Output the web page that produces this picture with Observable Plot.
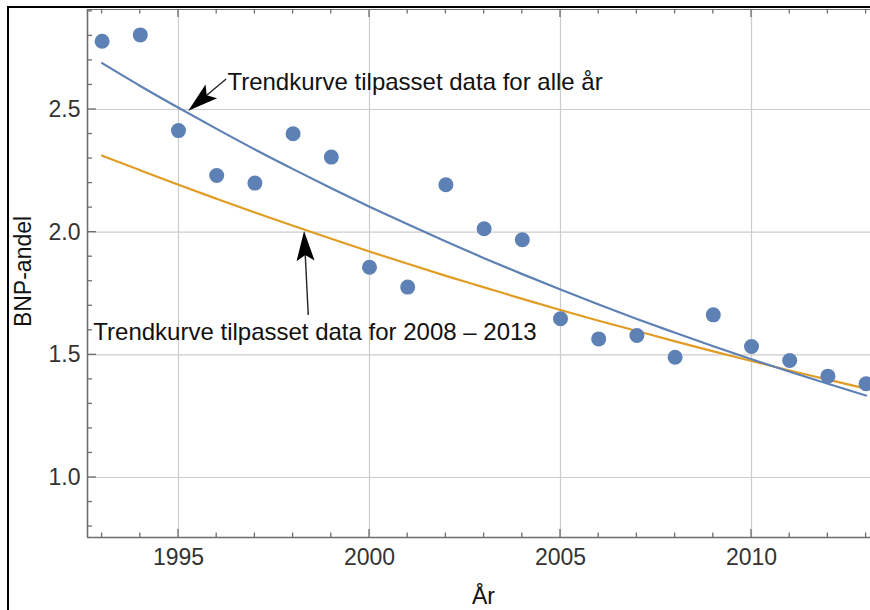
<!DOCTYPE html>
<html>
<head>
<meta charset="utf-8">
<script src="https://cdn.jsdelivr.net/npm/d3@7"></script>
<script src="https://cdn.jsdelivr.net/npm/@observablehq/plot@0.6"></script>
<style>
  html, body { margin: 0; padding: 0; background: #fff; }
  body { width: 870px; height: 610px; overflow: hidden; position: relative; font-family: "Liberation Sans", Arial, sans-serif; }
  #chart { position: absolute; left: 0; top: 0; }
  #frameL { position: absolute; left: 7px; top: 6px; width: 2px; height: 604px; background: #000; }
  #frameT { position: absolute; left: 7px; top: 6px; width: 863px; height: 2px; background: #000; }
</style>
</head>
<body>
<div id="chart"></div>
<div id="frameL"></div>
<div id="frameT"></div>
<script>
// ---- data ----
const years = [1993,1994,1995,1996,1997,1998,1999,2000,2001,2002,2003,2004,2005,2006,2007,2008,2009,2010,2011,2012,2013];
const bnpShare = [2.778,2.804,2.414,2.231,2.200,2.401,2.306,1.857,1.776,2.193,2.014,1.969,1.647,1.565,1.579,1.490,1.663,1.534,1.477,1.413,1.382];
const trendAllYears = [2.689,2.596,2.507,2.421,2.337,2.257,2.179,2.104,2.032,1.962,1.894,1.829,1.766,1.705,1.646,1.590,1.535,1.482,1.431,1.382,1.334];
const trend2008to2013 = [2.312,2.252,2.193,2.136,2.080,2.026,1.973,1.921,1.871,1.822,1.775,1.728,1.683,1.639,1.597,1.555,1.514,1.475,1.436,1.399,1.362];

const xMajorTicks = [1995,2000,2005,2010];
const xMinorTicks = [1993,1994,1996,1997,1998,1999,2001,2002,2003,2004,2006,2007,2008,2009,2011,2012,2013];
const yMajorTicks = [1.0,1.5,2.0,2.5];
const yTickLabels = ["1.0","1.5","2.0","2.5"];
const yMinorTicks = [0.8,0.9,1.1,1.2,1.3,1.4,1.6,1.7,1.8,1.9,2.1,2.2,2.3,2.4,2.6,2.7,2.8,2.9];

const xLabel = "År";
const yLabel = "BNP-andel";

const annotationTexts = ["Trendkurve tilpasset data for alle år", "Trendkurve tilpasset data for 2008 – 2013"];
const annotationX = [1996.28, 1992.77];
const annotationY = [2.609, 1.590];
const arrowTailX = [1996.26, 1998.41];
const arrowTailY = [2.622, 1.660];
const arrowTipX = [1995.27, 1998.30];
const arrowTipY = [2.493, 2.003];

const xDomain = [1992.618, 2013.115];
const yDomain = [0.7554, 2.9076];

// ---- tables built from the arrays ----
const points = years.map((yr, i) => ({year: yr, value: bnpShare[i]}));
const curveAll = years.map((yr, i) => ({year: yr, value: trendAllYears[i]}));
const curveRecent = years.map((yr, i) => ({year: yr, value: trend2008to2013[i]}));
const annotations = annotationTexts.map((t, i) => ({text: t, x: annotationX[i], y: annotationY[i]}));
const arrows = arrowTipX.map((_, i) => ({x1: arrowTailX[i], y1: arrowTailY[i], x2: arrowTipX[i], y2: arrowTipY[i]}));

const blue = "#5E81B5";
const orange = "#E19C24";
const axisGray = "#6e6e6e";

// frame ticks pointing inward (drawn through Plot's scales)
function frameTicks(index, scales, values, dims) {
  const {x, y} = scales;
  const top = dims.marginTop, bottom = dims.height - dims.marginBottom;
  const left = dims.marginLeft, right = dims.width - dims.marginRight;
  const g = d3.create("svg:g").attr("stroke", axisGray).attr("stroke-width", 1.3).attr("fill", "none");
  const addX = (vals, len) => vals.forEach(v => {
    const px = x(v);
    g.append("line").attr("x1", px).attr("x2", px).attr("y1", bottom).attr("y2", bottom - len);
    g.append("line").attr("x1", px).attr("x2", px).attr("y1", top).attr("y2", top + len);
  });
  const addY = (vals, len) => vals.forEach(v => {
    const py = y(v);
    g.append("line").attr("x1", left).attr("x2", left + len).attr("y1", py).attr("y2", py);
  });
  addX(xMajorTicks, 8); addX(xMinorTicks, 4.5);
  addY(yMajorTicks, 9); addY(yMinorTicks, 5);
  return g.node();
}

// annotation arrows with Mathematica-like filled notched heads
function arrowMarks(index, scales) {
  const {x, y} = scales;
  const g = d3.create("svg:g");
  const L = 30, W = 9, N = 24;
  for (const a of arrows) {
    const tx = x(a.x1), ty = y(a.y1), hx = x(a.x2), hy = y(a.y2);
    const dx = tx - hx, dy = ty - hy, len = Math.hypot(dx, dy);
    const ux = dx / len, uy = dy / len, px = -uy, py = ux;
    const nx = hx + ux * N, ny = hy + uy * N;
    g.append("line").attr("x1", tx).attr("y1", ty).attr("x2", nx).attr("y2", ny)
      .attr("stroke", "#222").attr("stroke-width", 1.4);
    const bx = hx + ux * L, by = hy + uy * L;
    const pts = [[hx, hy], [bx + px * W, by + py * W], [nx, ny], [bx - px * W, by - py * W]];
    g.append("polygon").attr("points", pts.map(p => p.join(",")).join(" ")).attr("fill", "#000");
  }
  return g.node();
}

const chart = Plot.plot({
  width: 870,
  height: 610,
  marginLeft: 87,
  marginRight: 0,
  marginTop: 9,
  marginBottom: 73,
  style: {fontFamily: "'Liberation Sans', Arial, sans-serif", background: "transparent"},
  x: {domain: xDomain},
  y: {domain: yDomain},
  marks: [
    Plot.gridX(xMajorTicks, {stroke: "#cccccc", strokeOpacity: 1, strokeWidth: 1.2}),
    Plot.gridY(yMajorTicks, {stroke: "#cccccc", strokeOpacity: 1, strokeWidth: 1.2}),
    Plot.ruleX([xDomain[0]], {stroke: axisGray, strokeWidth: 1.6}),
    Plot.ruleY([yDomain[0]], {stroke: axisGray, strokeWidth: 1.6}),
    Plot.ruleY([yDomain[1]], {stroke: axisGray, strokeWidth: 1.2}),
    frameTicks,
    Plot.axisX(xMajorTicks, {tickSize: 0, tickPadding: 11, fontSize: 23, color: "#333", tickFormat: d => String(d), label: null}),
    Plot.axisY(yMajorTicks, {tickSize: 0, tickPadding: 7, fontSize: 23, color: "#333", tickFormat: d => yTickLabels[yMajorTicks.indexOf(d)], label: null}),
    Plot.text([xLabel], {frameAnchor: "bottom", dx: 4.5, dy: 59.5, fontSize: 23, fill: "#111", lineAnchor: "middle"}),
    Plot.text([yLabel], {frameAnchor: "left", dx: -64, dy: -2, rotate: -90, fontSize: 23, fill: "#111", textAnchor: "middle", lineAnchor: "middle"}),
    Plot.line(curveRecent, {x: "year", y: "value", stroke: orange, strokeWidth: 2.2, curve: "monotone-x"}),
    Plot.line(curveAll, {x: "year", y: "value", stroke: blue, strokeWidth: 2.2, curve: "monotone-x"}),
    Plot.dot(points, {x: "year", y: "value", r: 7.5, fill: blue, stroke: "none"}),
    Plot.text(annotations, {x: "x", y: "y", text: "text", textAnchor: "start", lineAnchor: "middle", fontSize: 24, fill: "#111", ariaLabel: "annotation"}),
    arrowMarks
  ]
});

document.getElementById("chart").append(chart);

// white background boxes behind the annotation texts
chart.querySelectorAll('g[aria-label="annotation"] text').forEach(t => {
  const b = t.getBBox();
  const r = document.createElementNS("http://www.w3.org/2000/svg", "rect");
  r.setAttribute("x", b.x - 3);
  r.setAttribute("y", b.y - 2);
  r.setAttribute("width", b.width + 6);
  r.setAttribute("height", b.height + 4);
  r.setAttribute("fill", "#fff");
  const tr = t.getAttribute("transform");
  if (tr) r.setAttribute("transform", tr);
  t.parentNode.insertBefore(r, t);
});
</script>
</body>
</html>
